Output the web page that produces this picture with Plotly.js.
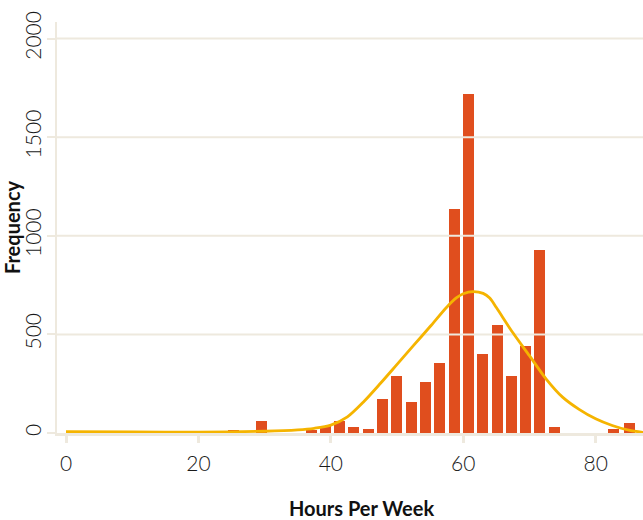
<!DOCTYPE html>
<html>
<head>
<meta charset="utf-8">
<script src="https://cdn.plot.ly/plotly-3.0.1.min.js"></script>
<style>
  html, body { margin: 0; padding: 0; background: #ffffff; }
  #chart { width: 643px; height: 520px; }
</style>
</head>
<body>
<div id="chart"></div>
<script>
// Histogram bins (centre of bar, hours per week) and counts
const binCenters = [25.3, 29.53, 37.08, 39.19, 41.31, 43.42, 45.69, 47.80, 49.92, 52.18,
                    54.30, 56.41, 58.68, 60.79, 62.91, 65.17, 67.29, 69.40, 71.51, 73.78,
                    82.69, 85.11];
const binCounts = [14, 63, 13, 33, 63, 28, 18, 170, 291, 159,
                   261, 357, 1136, 1718, 402, 549, 291, 443, 928, 28,
                   18, 53];

// Density curve (scaled to counts)
const curveX = [0, 10, 20, 30, 35, 37.5, 40, 42.5, 45, 47.5, 50, 52.5, 55, 57.5, 59, 60, 61.5,
                63, 64, 65, 67.5, 70, 72.5, 75, 77.5, 80, 82.5, 85, 87.2];
const curveY = [7, 5, 4, 9, 16, 24, 40, 82, 160, 252, 348, 444, 540, 638, 686, 706, 717,
                708, 684, 636, 508, 392, 275, 182, 120, 72, 38, 14, 3];

const yTickVals = [0, 500, 1000, 1500, 2000];
const xTickVals = [0, 20, 40, 60, 80];

const xRange = [-1.36, 87.15];
const yRange = [0, 2084];

const barColor = '#e04e1e';
const curveColor = '#f5b400';
const gridColor = '#eee9de';

// gridlines as a trace between bars and curve
const gx = [], gy = [];
yTickVals.filter(v => v > 0).forEach(v => { gx.push(xRange[0], xRange[1], null); gy.push(v, v, null); });

const traces = [
  { type: 'bar', x: binCenters, y: binCounts, width: 1.66,
    marker: { color: barColor, line: { width: 0 } }, hoverinfo: 'x+y', showlegend: false },
  { type: 'scatter', mode: 'lines', x: gx, y: gy, line: { color: gridColor, width: 2 },
    hoverinfo: 'skip', showlegend: false },
  { type: 'scatter', mode: 'lines', x: curveX, y: curveY,
    line: { color: curveColor, width: 2.8, shape: 'spline', smoothing: 0.8 },
    hoverinfo: 'skip', showlegend: false }
];

const tickFont = { family: 'Lato, sans-serif', size: 21, color: '#1a1a1a', weight: 300 };
const titleFont = { family: 'Lato, sans-serif', size: 20, color: '#111111', weight: 700 };

const layout = {
  width: 643, height: 520,
  margin: { l: 57, r: 0, t: 22, b: 87, pad: 0 },
  paper_bgcolor: '#ffffff', plot_bgcolor: '#ffffff',
  font: tickFont,
  xaxis: {
    range: xRange, tickvals: xTickVals, ticktext: xTickVals.map(String),
    showgrid: false, zeroline: false,
    showline: true, linecolor: gridColor, linewidth: 3,
    ticks: 'outside', ticklen: 7, tickwidth: 3, tickcolor: gridColor,
    tickfont: tickFont, ticklabelstandoff: 3,
    automargin: false, fixedrange: true
  },
  yaxis: {
    range: yRange, tickvals: yTickVals, ticktext: yTickVals.map(String),
    showgrid: false, zeroline: false,
    showline: true, linecolor: gridColor, linewidth: 2,
    ticks: 'outside', ticklen: 8, tickwidth: 2, tickcolor: gridColor,
    tickangle: -90, tickfont: tickFont, ticklabelstandoff: -2,
    title: { text: 'Frequency', font: titleFont, standoff: 8 },
    automargin: false, fixedrange: true
  },
  annotations: [
    { text: 'Hours Per Week', xref: 'paper', yref: 'paper', x: 0.519, y: -0.182,
      xanchor: 'center', yanchor: 'middle', showarrow: false, font: titleFont }
  ],
  bargap: 0
};

Plotly.newPlot('chart', traces, layout, { displayModeBar: false, staticPlot: true });
</script>
</body>
</html>
